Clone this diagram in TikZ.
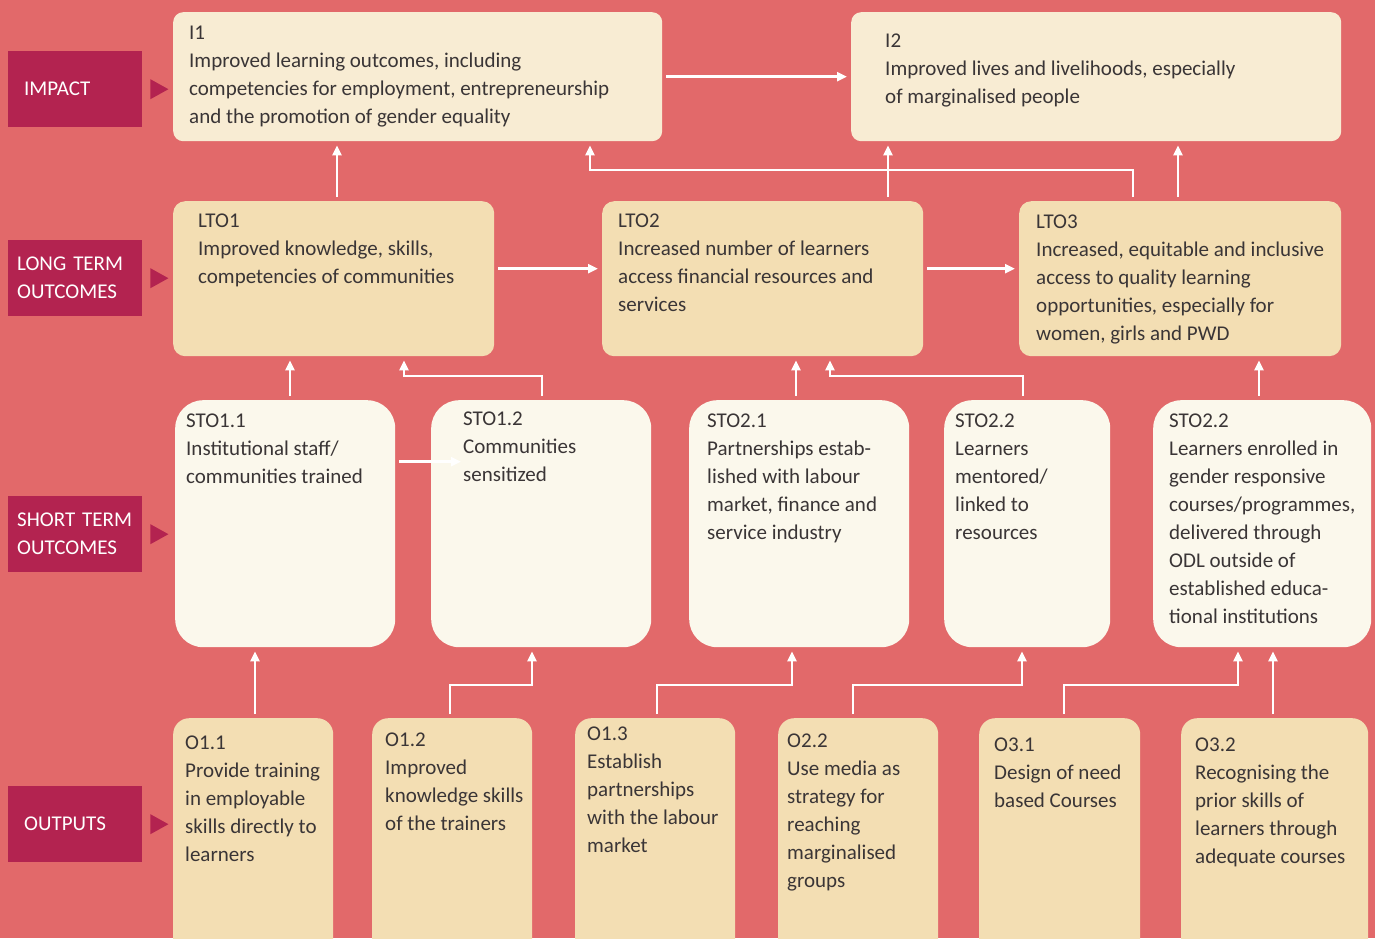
\documentclass[tikz,border=0pt]{standalone}
\usepackage{fontspec}
\setmainfont{Carlito}
\usetikzlibrary{arrows.meta}

\definecolor{bgred}{HTML}{E2696A}
\definecolor{tagred}{HTML}{B32350}
\definecolor{impactfill}{HTML}{F8ECD3}
\definecolor{tanfill}{HTML}{F3DEB3}
\definecolor{stofill}{HTML}{FBF8EC}
\definecolor{inkgray}{HTML}{3A3536}

\begin{document}
\begin{tikzpicture}[x=1pt, y=-1pt,
    font=\fontsize{21}{28}\selectfont,
    box/.style={anchor=north west, inner sep=0pt},
    impactbox/.style={box, fill=impactfill, rounded corners=10pt, minimum height=129pt},
    ltobox/.style={box, fill=tanfill, rounded corners=12pt, minimum height=155pt},
    stobox/.style={box, fill=stofill, rounded corners=28pt, minimum height=247pt},
    outbox/.style={box, fill=tanfill, rounded corners=16pt, minimum height=240pt},
    txt/.style={anchor=north west, inner sep=0pt, align=left, text=inkgray, execute at begin node=\strut},
    tag/.style={anchor=north west, fill=tagred, text=white, minimum width=134pt, minimum height=76pt,
        text width=116pt, inner xsep=9pt, inner ysep=0pt, align=left},
    link/.style={draw=white, line width=2.5pt, -{Triangle[length=10pt,width=9pt]},
        shorten <=4pt, shorten >=4pt}
]
\clip (0,0) rectangle (1375,938);
\fill[bgred] (0,0) rectangle (1375,938);

% row labels
\node[tag] (impact) at (8,51) {\hspace*{7pt}IMPACT};
\node[tag] (longterm) at (8,240) {LONG TERM\\OUTCOMES};
\node[tag] (shortterm) at (8,496) {SHORT TERM\\OUTCOMES};
\node[tag] (outputs) at (8,786) {\hspace*{7pt}OUTPUTS};
\foreach \t in {impact,longterm,shortterm,outputs}
    \fill[tagred] ([xshift=8pt]\t.east) ++(0,-10) -- ++(18,10) -- ++(-18,10) -- cycle;

% impact
\node[impactbox, minimum width=489pt] (i1) at (173,12) {};
\node[impactbox, minimum width=490pt] (i2) at (851,12) {};
\node[txt] (i1t) at (189,25.4) {I1\\Improved learning outcomes, including\\competencies for employment, entrepreneurship\\and the promotion of gender equality};
\node[txt] (i2t) at (885,33.4) {I2\\Improved lives and livelihoods, especially\\of marginalised people};

% long term outcomes
\node[ltobox, minimum width=321pt] (lto1) at (173,201) {};
\node[ltobox, minimum width=321pt] (lto2) at (602,201) {};
\node[ltobox, minimum width=322pt] (lto3) at (1019,201) {};
\node[txt] (lto1t) at (198,213.4) {LTO1\\Improved knowledge, skills,\\competencies of communities};
\node[txt] (lto2t) at (618,213.4) {LTO2\\Increased number of learners\\access financial resources and\\services};
\node[txt] (lto3t) at (1036,214.4) {LTO3\\Increased, equitable and inclusive\\access to quality learning\\opportunities, especially for\\women, girls and PWD};

% short term outcomes
\node[stobox, minimum width=220pt] (sto11) at (175,400) {};
\node[stobox, minimum width=220pt] (sto12) at (431,400) {};
\node[stobox, minimum width=220pt] (sto21) at (689,400) {};
\node[stobox, minimum width=166pt] (sto22) at (944,400) {};
\node[stobox, minimum width=218pt] (sto22b) at (1153,400) {};
\node[txt] (sto11t) at (186,413.4) {STO1.1\\Institutional staff/\\communities trained};
\node[txt] (sto12t) at (463,411.4) {STO1.2\\Communities\\sensitized};
\node[txt] (sto21t) at (707,413.4) {STO2.1\\Partnerships estab-\\lished with labour\\market, finance and\\service industry};
\node[txt] (sto22t) at (955,413.4) {STO2.2\\Learners\\mentored/\\linked to\\resources};
\node[txt] (sto22bt) at (1169,413.4) {STO2.2\\Learners enrolled in\\gender responsive\\courses/programmes,\\delivered through\\ODL outside of\\established educa-\\tional institutions};

% outputs
\node[outbox, minimum width=160pt] (o11) at (173,718) {};
\node[outbox, minimum width=160pt] (o12) at (372,718) {};
\node[outbox, minimum width=160pt] (o13) at (575,718) {};
\node[outbox, minimum width=160pt] (o22) at (778,718) {};
\node[outbox, minimum width=161pt] (o31) at (979,718) {};
\node[outbox, minimum width=187pt] (o32) at (1181,718) {};
\node[txt] (o11t) at (185,735.4) {O1.1\\Provide training\\in employable\\skills directly to\\learners};
\node[txt] (o12t) at (385,732.4) {O1.2\\Improved\\knowledge skills\\of the trainers};
\node[txt] (o13t) at (587,726.4) {O1.3\\Establish\\partnerships\\with the labour\\market};
\node[txt] (o22t) at (787,733.4) {O2.2\\Use media as\\strategy for\\reaching\\marginalised\\groups};
\node[txt] (o31t) at (994,737.4) {O3.1\\Design of need\\based Courses};
\node[txt] (o32t) at (1195,737.4) {O3.2\\Recognising the\\prior skills of\\learners through\\adequate courses};

% links to impact
\draw[link] (i1.east) -- (i2.west);
\draw[link] ([xshift=164pt]lto1.north west) -- ([xshift=164pt]i1.south west);
\draw[link] ([xshift=114pt]lto3.north west) -- ++(0,-31) -| ([xshift=417pt]i1.south west);
\draw[link] ([xshift=286pt]lto2.north west) -- ([xshift=37pt]i2.south west);
\draw[link] ([xshift=159pt]lto3.north west) -- ([xshift=327pt]i2.south west);

% links between long term outcomes
\draw[link] ([yshift=10pt]lto1.east) -- ([yshift=10pt]lto2.west);
\draw[link] ([yshift=10pt]lto2.east) -- ([yshift=10pt]lto3.west);

% links to long term outcomes
\draw[link] ([xshift=115pt]sto11.north west) -- ([xshift=117pt]lto1.south west);
\draw[link] ([xshift=111pt]sto12.north west) -- ++(0,-24) -| ([xshift=231pt]lto1.south west);
\draw[link] ([yshift=62pt]sto11.east) -- ([xshift=34pt,yshift=62pt]sto12.west);
\draw[link] ([xshift=107pt]sto21.north west) -- ([xshift=194pt]lto2.south west);
\draw[link] ([xshift=79pt]sto22.north west) -- ++(0,-24) -| ([xshift=228pt]lto2.south west);
\draw[link] ([xshift=106pt]sto22b.north west) -- ([xshift=240pt]lto3.south west);

% links to short term outcomes
\draw[link] ([xshift=82pt]o11.north west) -- ([xshift=80pt]sto11.south west);
\draw[link] ([xshift=78pt]o12.north west) -- ++(0,-33) -| ([xshift=101pt]sto12.south west);
\draw[link] ([xshift=82pt]o13.north west) -- ++(0,-33) -| ([xshift=103pt]sto21.south west);
\draw[link] ([xshift=75pt]o22.north west) -- ++(0,-33) -| ([xshift=78pt]sto22.south west);
\draw[link] ([xshift=85pt]o31.north west) -- ++(0,-33) -| ([xshift=85pt]sto22b.south west);
\draw[link] ([xshift=92pt]o32.north west) -- ([xshift=120pt]sto22b.south west);
\end{tikzpicture}
\end{document}
